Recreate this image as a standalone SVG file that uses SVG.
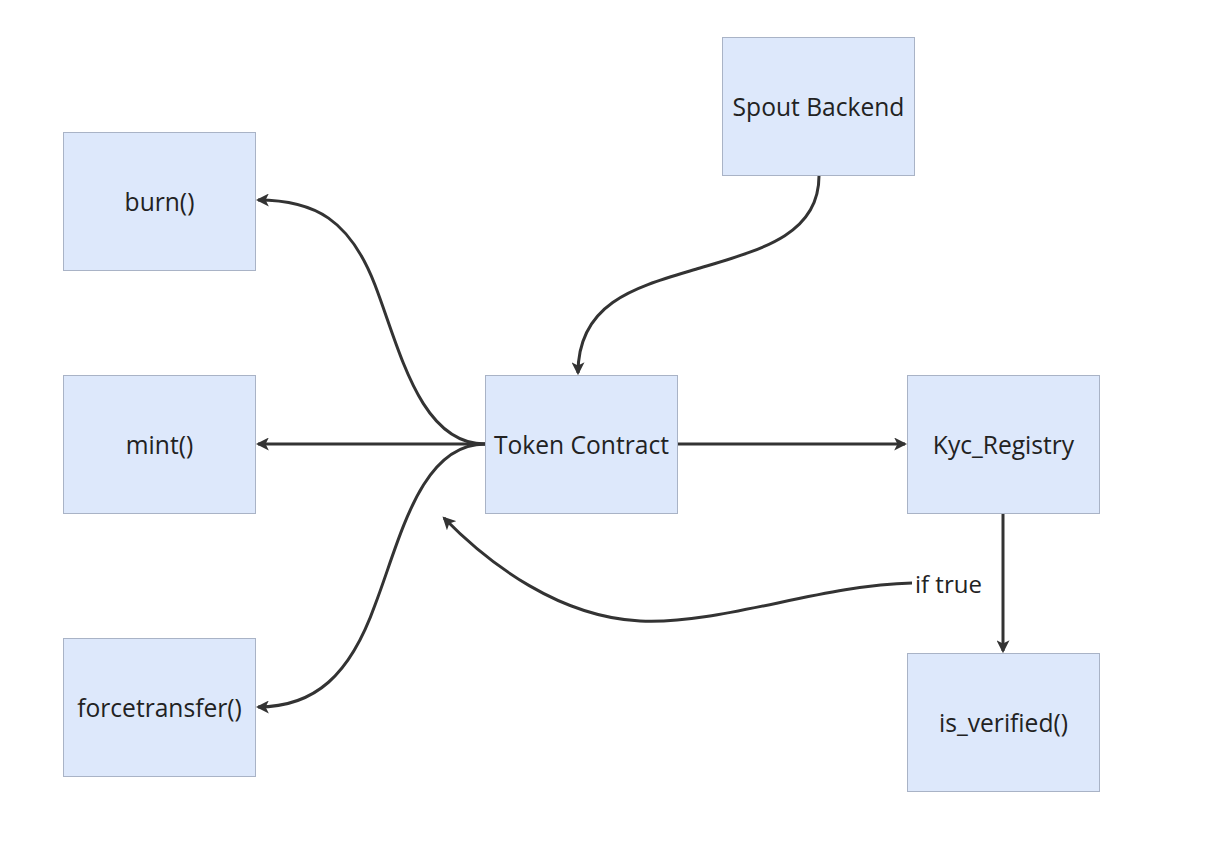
<svg xmlns="http://www.w3.org/2000/svg" width="1206" height="856" viewBox="0 0 1206 856">
<style>
.node rect{fill:#dde8fb;stroke:#a9b3c6;stroke-width:1}
.node text{font-family:"Open Sans","Noto Sans",sans-serif;font-size:24.6px;fill:#222;text-anchor:middle;dominant-baseline:central}
.edge{fill:none;stroke:#333;stroke-width:3}
.lbl{font-family:"Open Sans","Noto Sans",sans-serif;font-size:24px;fill:#222;dominant-baseline:central}
</style>
<defs>
<marker id="arr" viewBox="0 0 12 12" refX="10" refY="6" markerWidth="13" markerHeight="13" markerUnits="userSpaceOnUse" orient="auto">
<path d="M0,0 L12,6 L0,12 L3,6 Z" fill="#333"/>
</marker>
</defs>
<rect width="1206" height="856" fill="#fff"/>
<g id="connectors">
<path class="edge" d="M819,176 C819,235 760,250 700,268 C640,286 578,300 578,373" marker-end="url(#arr)"/>
<path class="edge" d="M485,444 C420,444 400,350 375,285 C350,220 315,200 258,200" marker-end="url(#arr)"/>
<path class="edge" d="M485,444 L258,444" marker-end="url(#arr)"/>
<path class="edge" d="M485,444 C420,444 400,540 375,605 C350,675 315,707 258,707" marker-end="url(#arr)"/>
<path class="edge" d="M677,444 L905,444" marker-end="url(#arr)"/>
<path class="edge" d="M1003,513 L1003,651" marker-end="url(#arr)"/>
<path class="edge" d="M912,583 C820,585 720,625 640,621 C560,617 490,565 444,518" marker-end="url(#arr)"/>
<rect x="914" y="568" width="70" height="30" fill="#fff"/>
<text class="lbl" x="915" y="583">if true</text>
</g>
<g id="spout" class="node"><rect x="722.5" y="37.5" width="192" height="138"/><text x="818.5" y="106">Spout Backend</text></g>
<g id="burn" class="node"><rect x="63.5" y="132.5" width="192" height="138"/><text x="159.5" y="201">burn()</text></g>
<g id="token" class="node"><rect x="485.5" y="375.5" width="192" height="138"/><text x="581.5" y="444">Token Contract</text></g>
<g id="mint" class="node"><rect x="63.5" y="375.5" width="192" height="138"/><text x="159.5" y="444">mint()</text></g>
<g id="kyc" class="node"><rect x="907.5" y="375.5" width="192" height="138"/><text x="1003.5" y="444">Kyc_Registry</text></g>
<g id="force" class="node"><rect x="63.5" y="638.5" width="192" height="138"/><text x="159.5" y="707">forcetransfer()</text></g>
<g id="isverified" class="node"><rect x="907.5" y="653.5" width="192" height="138"/><text x="1003.5" y="722">is_verified()</text></g>
</svg>
